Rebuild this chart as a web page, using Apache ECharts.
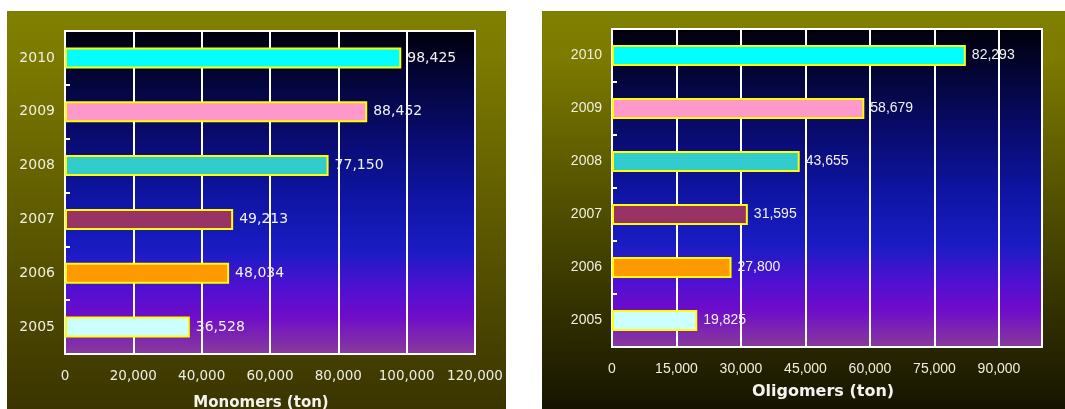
<!DOCTYPE html>
<html>
<head>
<meta charset="utf-8">
<script src="https://cdn.jsdelivr.net/npm/echarts@6/dist/echarts.min.js"></script>
<style>
    html, body { margin: 0; padding: 0; background: #fff; }
    #chart { width: 1065px; height: 409px; }
</style>
</head>
<body>
<div id="chart"></div>
<script>
// data
var years = ['2005', '2006', '2007', '2008', '2009', '2010'];
var monomers = [36528, 48034, 49213, 77150, 88452, 98425];
var oligomers = [19825, 27800, 31595, 43655, 58679, 82293];
var barColors = ['#ccffff', '#ff9900', '#993366', '#33cccc', '#ff99cc', '#00ffff'];

var dom = document.getElementById('chart');
var myChart = echarts.init(dom);
// left panel text is a bit wider than the right one
var wideFont = 'DejaVu Sans, sans-serif';
var font = 'Liberation Sans, Arial, sans-serif';

function fmt(v) {
    return String(v).replace(/\B(?=(\d{3})+(?!\d))/g, ',');
}

// plot area gradient (black -> blue -> violet)
function plotBg() {
    return new echarts.graphic.LinearGradient(0, 0, 0, 1, [
        {offset: 0, color: '#00000a'},
        {offset: 0.3, color: '#080a66'},
        {offset: 0.5, color: '#0e14a0'},
        {offset: 0.68, color: '#1a1cc4'},
        {offset: 0.8, color: '#5210d2'},
        {offset: 0.88, color: '#6e0cca'},
        {offset: 1, color: '#8a3c9a'}
    ]);
}
function oliveBg(bottom) {
    return new echarts.graphic.LinearGradient(0, 0, 0, 1, [
        {offset: 0, color: '#808000'},
        {offset: 0.12, color: '#7c7a00'},
        {offset: 1, color: bottom}
    ]);
}

function xAxisOf(idx, max, interval, name, cfg) {
    return {
        gridIndex: idx,
        type: 'value',
        min: 0,
        max: max,
        interval: interval,
        name: name,
        nameLocation: 'middle',
        nameGap: cfg.nameGap,
        nameTextStyle: {
            color: '#f4f4ee', fontWeight: 'bold', fontSize: cfg.nameSize,
            fontFamily: wideFont, padding: [0, cfg.nameShift, 0, 0]
        },
        axisLine: {show: false},
        axisTick: {show: false},
        axisLabel: {
            color: '#eeeee0', fontSize: cfg.labelSize, fontFamily: cfg.font, margin: cfg.margin,
            showMaxLabel: idx === 0,
            formatter: fmt
        },
        splitLine: {show: true, lineStyle: {color: '#ffffff', width: 2}}
    };
}

function yAxisOf(idx, f) {
    return {
        gridIndex: idx,
        type: 'category',
        data: years,
        axisLine: {show: true, lineStyle: {color: '#ffffff', width: 2}},
        axisTick: {show: true, inside: true, length: 5, lineStyle: {color: '#ffffff', width: 2}},
        axisLabel: {color: '#f0f0e0', fontSize: 14, fontFamily: f, margin: 10}
    };
}

function barSeries(idx, values, f) {
    return {
        type: 'bar',
        xAxisIndex: idx,
        yAxisIndex: idx,
        data: values,
        barWidth: 21,
        itemStyle: {
            color: function (p) { return barColors[p.dataIndex]; },
            borderColor: '#ffff00',
            borderWidth: 2
        },
        label: {
            show: true,
            position: 'right',
            distance: 6,
            color: '#f2f2f2',
            fontSize: 14,
            fontFamily: f,
            formatter: function (p) { return fmt(p.value); }
        }
    };
}

option = {
    animation: false,
    backgroundColor: '#ffffff',
    graphic: [
        {type: 'rect', z: -10, shape: {x: 7, y: 11, width: 499, height: 398}, style: {fill: oliveBg('#3a3400')}},
        {type: 'rect', z: -10, shape: {x: 542, y: 11, width: 523, height: 398}, style: {fill: oliveBg('#161400')}}
    ],
    grid: [
        {left: 65, top: 31, width: 410, height: 323, outerBoundsMode: 'none', containLabel: false,
            show: true, backgroundColor: plotBg(), borderColor: '#ffffff', borderWidth: 2},
        {left: 612, top: 29, width: 430, height: 318, outerBoundsMode: 'none', containLabel: false,
            show: true, backgroundColor: plotBg(), borderColor: '#ffffff', borderWidth: 2}
    ],
    xAxis: [
        xAxisOf(0, 120000, 20000, 'Monomers (ton)',
            {nameSize: 15, nameGap: 42, nameShift: 18, labelSize: 13.5, font: wideFont, margin: 15}),
        xAxisOf(1, 100000, 15000, 'Oligomers (ton)',
            {nameSize: 16, nameGap: 37, nameShift: 8, labelSize: 14, font: font, margin: 15})
    ],
    yAxis: [yAxisOf(0, wideFont), yAxisOf(1, font)],
    series: [barSeries(0, monomers, wideFont), barSeries(1, oligomers, font)]
};
if (option && typeof option === 'object') {
    myChart.setOption(option, true);
}
</script>
</body>
</html>
